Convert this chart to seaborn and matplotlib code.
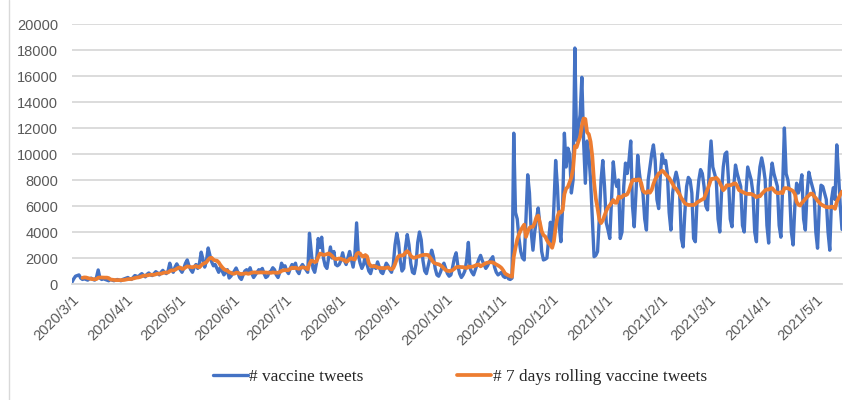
import numpy as np
import pandas as pd
import matplotlib
matplotlib.use("Agg")
import matplotlib.pyplot as plt
import matplotlib.dates as mdates
from matplotlib.lines import Line2D
from matplotlib.ticker import FuncFormatter
import seaborn as sns

# Daily counts of vaccine-related tweets, one list per month
start_date = "2020-03-01"
mar_2020 = [150, 400, 600, 650, 700, 450, 350, 400, 350, 300, 400, 450, 350, 300, 500, 1080,
            450, 350, 400, 350, 300, 250, 350, 300, 250, 300, 350, 300, 250, 350, 400]
apr_2020 = [450, 500, 400, 350, 500, 650, 600, 550, 700, 800, 650, 550, 750, 850, 700, 650,
            800, 950, 850, 700, 900, 1050, 900, 800, 1000, 1600, 1100, 900, 1300, 1550]
may_2020 = [1300, 1100, 900, 1200, 1600, 1850, 1400, 1100, 900, 1300, 1500, 1200, 1600, 2450,
            1900, 1300, 1800, 2770, 2200, 1700, 1400, 1500, 1200, 900, 1300, 1000, 700, 900,
            1100, 460, 600]
jun_2020 = [800, 1000, 1230, 900, 500, 350, 700, 1000, 1100, 900, 1250, 800, 500, 700, 900,
            1100, 1000, 1200, 800, 500, 600, 900, 1000, 1250, 1100, 700, 500, 900, 1600, 1300]
jul_2020 = [1400, 1000, 800, 1200, 1500, 1300, 1600, 1000, 800, 1300, 1500, 1300, 1100, 900,
            3900, 2500, 1200, 900, 1600, 3500, 2800, 3600, 2000, 1400, 1200, 2000, 2850, 2000,
            2500, 1500, 1400]
aug_2020 = [1500, 1800, 2400, 1800, 1500, 2000, 2500, 1900, 1300, 2200, 4700, 2200, 1600, 1200,
            1500, 2200, 1500, 1000, 800, 1300, 1400, 1200, 1700, 1300, 900, 800, 1200, 1600,
            1400, 1100, 900]
sep_2020 = [1500, 3000, 3900, 3200, 1800, 1000, 1200, 2800, 3800, 3000, 1600, 900, 800, 1500,
            3200, 4000, 3400, 1800, 1000, 800, 1400, 2000, 2600, 2100, 1200, 700, 600, 900,
            1300, 1600]
oct_2020 = [1200, 800, 600, 700, 1300, 2000, 2400, 1400, 800, 500, 700, 1000, 1800, 3200, 1200,
            900, 700, 1100, 1500, 1900, 2200, 1800, 1500, 1200, 1400, 1700, 1900, 2100, 1300,
            900, 700]
nov_2020 = [800, 900, 600, 500, 700, 400, 350, 450, 11600, 5500, 5000, 3500, 2500, 2000, 1850,
            5000, 8400, 7000, 4000, 2600, 4000, 5000, 5850, 4500, 2500, 1850, 1900, 2000, 3500,
            4750]
dec_2020 = [3000, 6000, 9500, 7500, 4500, 3250, 6000, 11600, 9000, 10450, 10000, 7000, 8000,
            18150, 11050, 12000, 13000, 15900, 11000, 7750, 11000, 10000, 8000, 5000, 2100,
            2200, 2500, 5000, 8000, 9500, 7500]
jan_2021 = [4700, 4150, 3500, 6500, 9400, 8000, 7500, 8000, 3500, 4000, 7500, 9300, 8500, 9500,
            11000, 6000, 4400, 7000, 9900, 8500, 7500, 7000, 5000, 4150, 8000, 9000, 10000,
            10700, 9500, 6500, 5800]
feb_2021 = [8500, 10000, 9300, 9500, 8500, 5500, 4150, 7000, 8000, 8600, 8000, 7000, 3500, 2850,
            5500, 7500, 8200, 8000, 7000, 3500, 3250, 6500, 8000, 8800, 8500, 7500, 6000, 5700]
mar_2021 = [9000, 11000, 9000, 8500, 8000, 5000, 4000, 7000, 9000, 10000, 10150, 8000, 5000,
            4400, 7500, 9150, 8500, 8000, 7500, 4500, 4000, 7000, 9000, 8500, 8000, 7000, 4000,
            3250, 7500, 9000, 9700]
apr_2021 = [9000, 8000, 4500, 3150, 8000, 9300, 8500, 8000, 7500, 4500, 3600, 7500, 12000, 8500,
            8000, 7000, 4000, 3000, 6000, 7750, 7000, 7500, 8400, 5000, 4150, 7000, 8600, 8000,
            7500, 7000]
may_2021 = [4000, 2750, 6000, 7600, 7500, 7000, 6500, 4000, 2600, 6500, 7400, 6500, 10700, 8500,
            6000, 4200]

series_labels = ["# vaccine tweets", "# 7 days rolling vaccine tweets"]
y_ticks = list(range(0, 20001, 2000))

months = [mar_2020, apr_2020, may_2020, jun_2020, jul_2020, aug_2020, sep_2020, oct_2020,
          nov_2020, dec_2020, jan_2021, feb_2021, mar_2021, apr_2021, may_2021]
daily = np.concatenate([np.asarray(m, dtype=float) for m in months])
dates = pd.date_range(start_date, periods=len(daily), freq="D")
df = pd.DataFrame({"date": dates, "tweets": daily})
df["rolling"] = df["tweets"].rolling(7).mean()

sns.set_theme(style="white")
plt.rcParams["font.family"] = ["Liberation Sans", "DejaVu Sans"]

W, H = 857, 400
fig = plt.figure(figsize=(W / 100, H / 100), dpi=100)
ax = fig.add_axes([72 / W, 116 / H, (842 - 72) / W, (284 - 24) / H])

sns.lineplot(data=df, x="date", y="tweets", ax=ax, color="#4472C4", lw=2.4,
             label=series_labels[0])
sns.lineplot(data=df, x="date", y="rolling", ax=ax, color="#ED7D31", lw=2.7,
             label=series_labels[1])

ax.set_xlim(dates[0], dates[-1])
ax.set_ylim(0, 20000)
ax.set_yticks(y_ticks)
ax.yaxis.grid(True, color="#d9d9d9", lw=1.3)
ax.xaxis.grid(False)
ax.set_axisbelow(True)
for side in ("top", "right", "left"):
    ax.spines[side].set_visible(False)
ax.spines["bottom"].set_color("#d9d9d9")
ax.spines["bottom"].set_linewidth(1.3)

ax.xaxis.set_major_locator(mdates.MonthLocator())
ax.xaxis.set_major_formatter(
    FuncFormatter(lambda v, _: (lambda d: f"{d.year}/{d.month}/{d.day}")(mdates.num2date(v))))
ax.tick_params(axis="x", direction="out", length=4, width=1.2, color="#d9d9d9",
               labelcolor="#595959", labelsize=10.5, pad=2)
ax.tick_params(axis="y", length=0, labelcolor="#595959", labelsize=10.5, pad=10)
for lbl in ax.get_xticklabels():
    lbl.set_rotation(45)
    lbl.set_ha("right")
    lbl.set_rotation_mode("anchor")
ax.set_xlabel("")
ax.set_ylabel("")

handles, labels = ax.get_legend_handles_labels()
ax.get_legend().remove()
fig.legend(handles, labels, loc="center", bbox_to_anchor=(460 / W, 1 - 377 / H), ncol=2,
           frameon=False, prop={"family": ["Liberation Serif"], "size": 12.4},
           handlelength=2.0, handletextpad=0.1, columnspacing=5.4)

# chart-area border on the left edge
fig.add_artist(Line2D([9 / W, 9 / W], [0, 1], transform=fig.transFigure,
                      color="#d9d9d9", lw=1))

fig.savefig("out.png", dpi=100)
